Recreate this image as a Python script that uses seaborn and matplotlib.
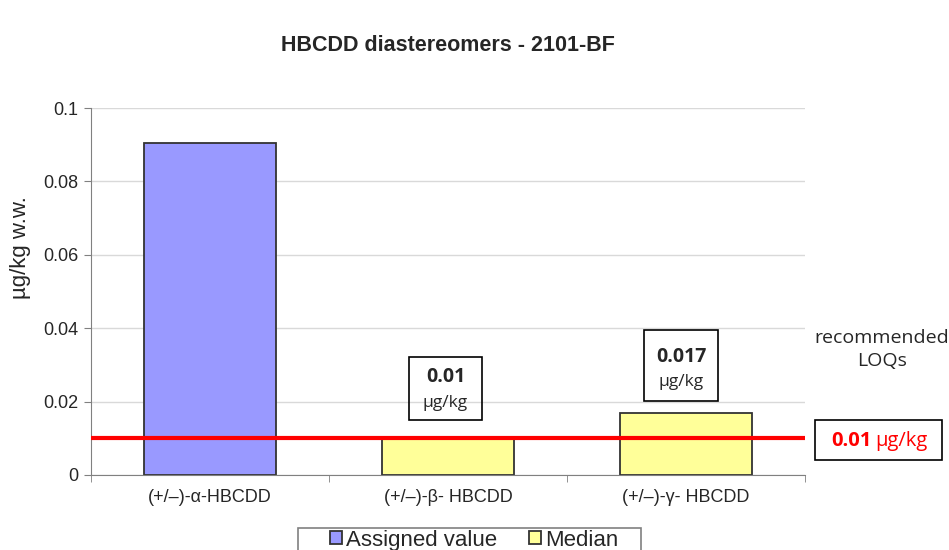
import pandas as pd
import seaborn as sns
import matplotlib.pyplot as plt
from matplotlib.patches import Rectangle

# Data
categories = ["(+/\u2013)-\u03b1-HBCDD", "(+/\u2013)-\u03b2- HBCDD", "(+/\u2013)-\u03b3- HBCDD"]
values = [0.0905, 0.0101, 0.0169]
series = ["Assigned value", "Median", "Median"]
loq = 0.01
box_labels = ["", "0.01", "0.017"]

df = pd.DataFrame({"Compound": categories, "Value": values, "Series": series})

sns.set_style("white")
plt.rcParams["font.family"] = ["Liberation Sans", "DejaVu Sans"]
calibri_like = ["Open Sans", "DejaVu Sans"]

fig = plt.figure(figsize=(9.49, 5.5), dpi=100)
ax = fig.add_axes([0.0959, 0.1364, 0.7522, 0.6672])

sns.barplot(data=df, x="Compound", y="Value", hue="Series", dodge=False,
            palette={"Assigned value": "#9999ff", "Median": "#ffff99"},
            saturation=1, edgecolor="#333333", linewidth=1.3, width=0.555,
            ax=ax, legend=True)

ax.set_xlim(-0.5, 2.5)
ax.set_ylim(0, 0.1)
ax.set_yticks([0, 0.02, 0.04, 0.06, 0.08, 0.1])
ax.set_yticklabels(["0", "0.02", "0.04", "0.06", "0.08", "0.1"], fontsize=13)
ax.yaxis.grid(True, color="#d9d9d9", linewidth=1)
ax.set_axisbelow(True)
ax.tick_params(axis="y", length=5, color="#808080", direction="out", left=True, pad=4)
ax.tick_params(axis="x", length=0, labelsize=13, pad=10)
ax.set_xticks([-0.5, 0.5, 1.5, 2.5], minor=True)
ax.tick_params(axis="x", which="minor", length=5, color="#808080", direction="out", bottom=True)
for s in ["top", "right"]:
    ax.spines[s].set_visible(False)
for s in ["left", "bottom"]:
    ax.spines[s].set_color("#808080")
ax.set_xlabel("")
ax.set_ylabel("\u00b5g/kg w.w.", fontsize=16)
ax.yaxis.set_label_coords(-0.084, 0.62)

# LOQ line
ax.axhline(loq, color="#ff0000", linewidth=3, zorder=5)

# value boxes above median bars: (center x, bottom, top, value y, unit y)
boxes = {1: (0.99, 0.0150, 0.0322, 0.0267, 0.0196),
         2: (1.98, 0.0202, 0.0395, 0.0322, 0.0253)}
for i, (cx, yb, yt, yv, yu) in boxes.items():
    ax.text(cx, yv, box_labels[i], fontsize=14, fontweight="bold",
            family=calibri_like, ha="center", va="center", zorder=6)
    ax.text(cx, yu, "\u00b5g/kg", fontsize=12.5,
            family=calibri_like, ha="center", va="center", zorder=6)
    ax.add_patch(Rectangle((cx - 0.155, yb), 0.31, yt - yb, fill=False,
                           edgecolor="black", linewidth=1.2, zorder=6))

# title
fig.text(0.472, 0.918, "HBCDD diastereomers - 2101-BF", fontsize=15.5, fontweight="bold",
         ha="center", va="center")

# recommended LOQs
fig.text(0.929, 0.365, "recommended\nLOQs", fontsize=14, ha="center", va="center",
         family=calibri_like, linespacing=1.35)
fig.text(0.918, 0.199, "0.01", fontsize=14.5, fontweight="bold", color="#ff0000",
         ha="right", va="center", family=calibri_like)
fig.text(0.922, 0.199, "\u00b5g/kg", fontsize=14.5, color="#ff0000",
         ha="left", va="center", family=calibri_like)
fig.add_artist(Rectangle((0.859, 0.164), 0.134, 0.073, transform=fig.transFigure,
                         fill=False, edgecolor="black", linewidth=1.2))

# legend (frame drawn separately, it runs off the bottom edge)
handles, labels = ax.get_legend_handles_labels()
ax.legend(handles, labels, loc="center", bbox_to_anchor=(0.4995, 0.018),
          bbox_transform=fig.transFigure, ncol=2, fontsize=16, frameon=False,
          handlelength=0.55, handleheight=0.55, handletextpad=0.2,
          columnspacing=1.4, borderpad=0.1, borderaxespad=0)
fig.add_artist(Rectangle((0.314, -0.01), 0.361, 0.05, transform=fig.transFigure,
                         fill=False, edgecolor="#808080", linewidth=1.2))

fig.savefig("out.png", dpi=100)
